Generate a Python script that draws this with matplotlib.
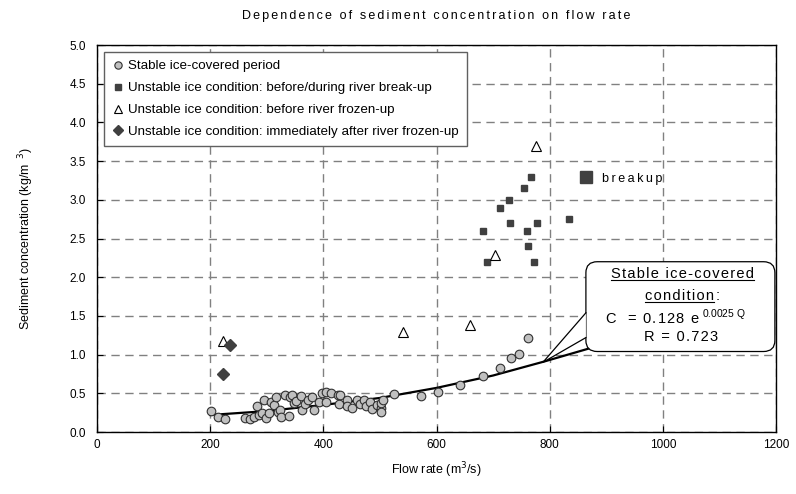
import numpy as np
import matplotlib
matplotlib.use('Agg')
import matplotlib.pyplot as plt
from matplotlib.patches import FancyBboxPatch, Polygon

plt.rcParams['font.family'] = ['Liberation Sans', 'DejaVu Sans']

# Datos
stable_q = [202, 213, 226, 262, 271, 278, 283, 286, 292, 295, 298, 304, 307, 313, 316,
            319, 323, 325, 333, 341, 339, 345, 348, 352, 360, 363, 367, 372, 383, 380,
            392, 397, 404, 414, 404, 425, 428, 430, 442, 441, 451, 460, 465, 472, 475,
            482, 486, 494, 501, 502, 506, 502, 525, 572, 602, 642, 683, 712, 731, 746, 762]
stable_c = [0.27, 0.19, 0.165, 0.18, 0.165, 0.2, 0.33, 0.22, 0.25, 0.415, 0.18, 0.24, 0.39, 0.35, 0.45,
            0.26, 0.29, 0.2, 0.48, 0.45, 0.21, 0.48, 0.38, 0.40, 0.46, 0.29, 0.36, 0.41, 0.29, 0.45,
            0.39, 0.5, 0.515, 0.51, 0.39, 0.48, 0.36, 0.48, 0.41, 0.33, 0.31, 0.41, 0.36, 0.415, 0.34,
            0.39, 0.295, 0.35, 0.31, 0.37, 0.415, 0.26, 0.49, 0.46, 0.515, 0.61, 0.72, 0.83, 0.95, 1.01, 1.21]

breakup_q = [683, 690, 712, 728, 730, 755, 760, 762, 767, 772, 778, 835]
breakup_c = [2.6, 2.2, 2.9, 3.0, 2.7, 3.15, 2.6, 2.4, 3.3, 2.2, 2.7, 2.75]

frozen_q = [222, 540, 660, 703, 775]
frozen_c = [1.18, 1.29, 1.38, 2.29, 3.7]

after_q = [222, 235]
after_c = [0.75, 1.12]

# linea de tendencia
trend_q = [200, 300, 400, 500, 600, 700, 790, 870]
trend_c = [0.22, 0.27, 0.35, 0.44, 0.57, 0.73, 0.91, 1.08]


def espaciar(s, sep='\u200a'):
    # imita el espaciado entre letras del original
    return sep.join(s)


fig = plt.figure(figsize=(7.96, 4.94), dpi=100)
ax = fig.add_axes([0.1219, 0.1255, 0.853, 0.7834])

gris = '#404040'
ax.plot(trend_q, trend_c, color='black', lw=1.6, zorder=3)
ax.plot(stable_q, stable_c, 'o', ms=6.2, mfc='#c0c0c0', mec='#303030', mew=0.8,
        label='Stable ice-covered period', zorder=4)
ax.plot(breakup_q, breakup_c, 's', ms=5, mfc=gris, mec=gris,
        label='Unstable ice condition: before/during river break-up', zorder=4)
ax.plot(frozen_q, frozen_c, '^', ms=7, mfc='white', mec='black', mew=0.8,
        label='Unstable ice condition: before river frozen-up', zorder=4)
ax.plot(after_q, after_c, 'D', ms=6, mfc=gris, mec=gris,
        label='Unstable ice condition: immediately after river frozen-up', zorder=4)

# marcador "breakup"
ax.plot([865], [3.3], 's', ms=9, mfc=gris, mec=gris, zorder=4)
ax.text(893, 3.27, espaciar('breakup', '\u2009'), fontsize=9, va='center', ha='left')

ax.set_xlim(0, 1200)
ax.set_ylim(0, 5)
ax.set_xticks(np.arange(0, 1201, 200))
ax.set_yticks(np.arange(0, 5.01, 0.5))
ax.set_yticklabels(['%.1f' % v for v in np.arange(0, 5.01, 0.5)])
ax.tick_params(direction='in', length=4, labelsize=8.5)
ax.tick_params(axis='x', pad=5)
ax.tick_params(axis='y', pad=8)
ax.grid(True, color='#808080', linestyle=(0, (6, 4)), lw=1)
for s in ax.spines.values():
    s.set_linewidth(1)

ax.set_xlabel('Flow rate (m$^{3}$/s)', fontsize=9, labelpad=7)
ax.set_ylabel('Sediment concentration (kg/m$^{\\ \\ 3}$)', fontsize=9, labelpad=24)
ax.set_title(espaciar('Dependence of sediment concentration on flow rate', '\u2006'),
             fontsize=9, pad=19)

leg = ax.legend(loc='upper left', bbox_to_anchor=(0.01, 0.982), borderaxespad=0,
                fontsize=9.6, fancybox=False, framealpha=1, edgecolor='#606060',
                handletextpad=0.25, labelspacing=0.72, borderpad=0.6, handlelength=1.0,
                markerscale=0.85)
leg.get_frame().set_linewidth(1)

# caja de texto tipo "callout"
box = FancyBboxPatch((864, 1.04), 334, 1.16, boxstyle='round,pad=0,rounding_size=20',
                     mutation_aspect=1 / 140, fc='white', ec='black', lw=0.9, zorder=6,
                     clip_on=False)
ax.add_patch(box)
wedge_fill = Polygon([(864, 1.54), (788, 0.9), (864, 1.22)], closed=True, fc='white',
                     ec='none', zorder=7)
ax.add_patch(wedge_fill)
ax.plot([864, 788, 864], [1.54, 0.9, 1.22], color='black', lw=0.9, zorder=8)

sp = '\u200a'
t1 = ax.text(1034, 2.04, espaciar('Stable ice-covered', sp), fontsize=10.5,
             ha='center', va='center', zorder=9)
t2 = ax.text(1030, 1.76, espaciar('condition', sp), fontsize=10.5, ha='center',
             va='center', zorder=9)
ax.text(898, 1.48, espaciar('C  = 0.128 e', sp) + '$^{\\mathregular{\\ 0.0025\\ Q}}$',
        fontsize=10.5, ha='left', va='center', zorder=9)
ax.text(1033, 1.23, espaciar('R = 0.723', sp), fontsize=10.5, ha='center',
        va='center', zorder=9)

# subrayado y dos puntos
fig.canvas.draw()
r = fig.canvas.get_renderer()
inv = ax.transData.inverted()
for t in (t1, t2):
    bb = t.get_window_extent(r)
    (x0, y0), (x1, _) = inv.transform([(bb.x0, bb.y0 + 1), (bb.x1, bb.y0 + 1)])
    ax.plot([x0, x1], [y0, y0], color='black', lw=0.8, zorder=9)
bb2 = t2.get_window_extent(r)
xc, _ = inv.transform((bb2.x1 + 1, bb2.y0))
ax.text(xc, 1.76, ':', fontsize=10.5, ha='left', va='center', zorder=9)

fig.savefig('out.png', dpi=100)
